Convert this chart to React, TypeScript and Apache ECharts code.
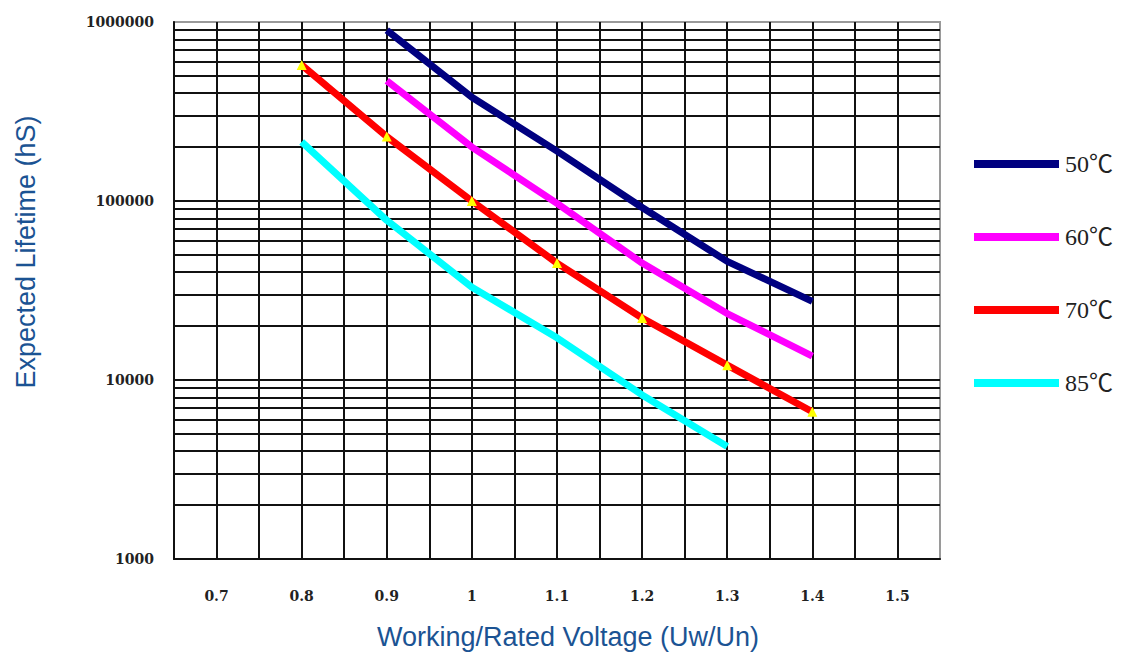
import React, { useEffect, useRef } from "react";
import * as echarts from "echarts";

// X tick values (working / rated voltage) and series data
const xTickLabels = ["0.7", "0.8", "0.9", "1", "1.1", "1.2", "1.3", "1.4", "1.5"];

const volt50 = [0.9, 1.0, 1.1, 1.2, 1.3, 1.4];
const life50 = [900000, 380000, 190000, 92000, 46000, 27500];

const volt60 = [0.9, 1.0, 1.1, 1.2, 1.3, 1.4];
const life60 = [470000, 200000, 97000, 45000, 23500, 13600];

const volt70 = [0.8, 0.9, 1.0, 1.1, 1.2, 1.3, 1.4];
const life70 = [575000, 229000, 100000, 45000, 22200, 12100, 6650];

const volt85 = [0.8, 0.9, 1.0, 1.1, 1.2, 1.3];
const life85 = [214000, 78000, 33000, 17200, 8250, 4250];

const seriesNames = ["50℃", "60℃", "70℃", "85℃"];
const seriesColors = ["#000080", "#ff00ff", "#ff0000", "#00ffff"];

// minor log grid lines (2..9 of each decade)
const minorGridValues = [
  2000, 3000, 4000, 5000, 6000, 7000, 8000, 9000,
  20000, 30000, 40000, 50000, 60000, 70000, 80000, 90000,
  200000, 300000, 400000, 500000, 600000, 700000, 800000, 900000,
];

const yTitle = "Expected Lifetime (hS)";
const xTitle = "Working/Rated Voltage (Uw/Un)";
const titleColor = "#1b5393";

function pairs(xs: number[], ys: number[]) {
  return xs.map((x, i) => [x, ys[i]]);
}

export default function App() {
  const ref = useRef<HTMLDivElement>(null);

  useEffect(() => {
    if (!ref.current) return;
    const chart = echarts.init(ref.current, null, { renderer: "svg" });

    const lineSeries = (name: string, color: string, data: number[][], extra: any = {}) => ({
      name,
      type: "line",
      data,
      smooth: false,
      z: 3,
      showSymbol: false,
      symbol: "none",
      lineStyle: { color, width: 7, cap: "butt" },
      itemStyle: { color },
      ...extra,
    });

    chart.setOption({
      animation: false,
      backgroundColor: "#ffffff",
      grid: {
        left: 174,
        top: 22,
        right: 186,
        bottom: 94,
        show: true,
        borderColor: "#9a9a9a",
        borderWidth: 2,
        backgroundColor: "transparent",
        containLabel: false,
        outerBoundsMode: "none",
      },
      xAxis: {
        type: "value",
        min: 0.65,
        max: 1.55,
        interval: 0.05,
        axisLine: { show: true, lineStyle: { color: "#111", width: 2 } },
        axisTick: { show: false },
        splitLine: {
          show: true,
          showMinLine: true,
          showMaxLine: false,
          lineStyle: { color: "#111", width: 2 },
        },
        axisLabel: {
          margin: 30,
          fontFamily: "DejaVu Serif",
          fontWeight: "bold",
          fontSize: 14,
          color: "#222",
          showMinLabel: false,
          showMaxLabel: false,
          formatter: (v: number) => {
            const idx = Math.round((v - 0.7) * 10);
            if (Math.abs((v - 0.7) * 10 - idx) > 1e-6) return "";
            return xTickLabels[idx] ?? "";
          },
        },
      },
      yAxis: {
        type: "log",
        logBase: 10,
        min: 1000,
        max: 1000000,
        axisLine: { show: true, lineStyle: { color: "#111", width: 2 } },
        axisTick: { show: false },
        splitLine: {
          show: true,
          showMaxLine: false,
          lineStyle: { color: "#111", width: 2 },
        },
        axisLabel: {
          margin: 20,
          fontFamily: "DejaVu Serif",
          fontWeight: "bold",
          fontSize: 14,
          color: "#222",
          formatter: (v: number) => String(Math.round(v)),
        },
      },
      legend: {
        orient: "vertical",
        left: 969,
        top: 147,
        itemWidth: 85,
        itemHeight: 8,
        itemGap: 49,
        icon: "rect",
        textStyle: {
          fontFamily: "Liberation Serif, 'Noto Sans CJK SC'",
          fontSize: 24,
          color: "#222",
          padding: [0, 0, 0, 1],
        },
        data: seriesNames.map((n, i) => ({ name: n, itemStyle: { color: seriesColors[i] } })),
      },
      graphic: [
        {
          type: "text",
          x: 26,
          y: 252,
          rotation: Math.PI / 2,
          style: {
            text: yTitle,
            fontFamily: "Liberation Sans",
            fontSize: 27,
            fill: titleColor,
            align: "center",
            verticalAlign: "middle",
          },
        },
        {
          type: "text",
          x: 568,
          y: 637,
          style: {
            text: xTitle,
            fontFamily: "Liberation Sans",
            fontSize: 27,
            fill: titleColor,
            align: "center",
            verticalAlign: "middle",
          },
        },
      ],
      series: [
        {
          name: "minorGrid",
          type: "line",
          data: [],
          silent: true,
          z: 1,
          markLine: {
            silent: true,
            z: 1,
            symbol: "none",
            label: { show: false },
            lineStyle: { color: "#111", width: 2, type: "solid" },
            emphasis: { disabled: true },
            data: minorGridValues.map((v) => ({ yAxis: v })),
          },
        },
        lineSeries(seriesNames[0], seriesColors[0], pairs(volt50, life50)),
        lineSeries(seriesNames[1], seriesColors[1], pairs(volt60, life60)),
        lineSeries(seriesNames[2], seriesColors[2], pairs(volt70, life70), {
          showSymbol: true,
          symbol: "triangle",
          symbolSize: 10,
          itemStyle: { color: "#ffff00" },
        }),
        lineSeries(seriesNames[3], seriesColors[3], pairs(volt85, life85)),
      ],
    });

    return () => chart.dispose();
  }, []);

  return (
    <div
      ref={ref}
      style={{ position: "fixed", left: 0, top: 0, width: 1126, height: 653, background: "#fff" }}
    />
  );
}
